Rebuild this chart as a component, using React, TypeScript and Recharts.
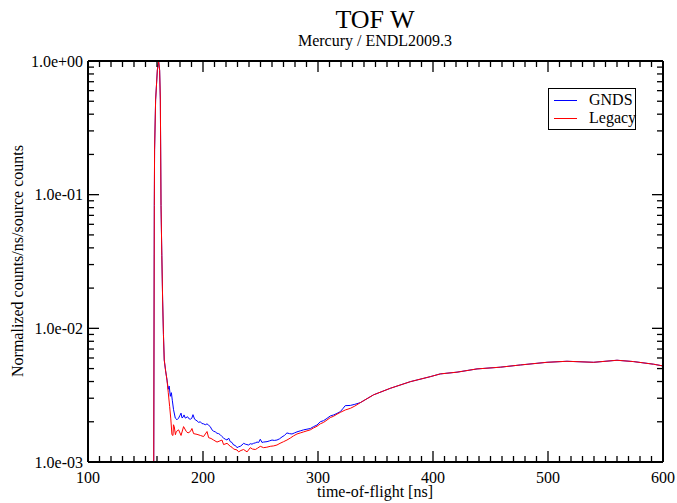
import React from 'react';
import { LineChart, Line, XAxis, YAxis, Legend, Customized } from 'recharts';

// ---- data ----
const peakTof = [157.0, 157.65, 157.9, 158.8, 160.3, 161.4, 162.3, 162.9, 163.2, 163.5, 164.2, 164.9, 165.6, 166.3, 167.5, 168.7];
const peakCounts = [0.0002, 0.083, 0.216, 0.511, 0.857, 1.0, 0.85, 0.511, 0.216, 0.083, 0.035, 0.0163, 0.009, 0.0058, 0.0048, 0.0041];

const gndsTof = [169.8, 170.6, 171.6, 172.5, 173.3, 174.4, 175.9, 177.4, 178.8, 179.8, 180.9, 181.7, 182.6, 183.5, 184.6, 186.6, 188, 189, 190.2, 191.3, 192.7, 194.8, 196.2, 197.7, 199, 200.5, 202, 203.5, 205, 206.3, 207.8, 209.2, 210.7, 212.2, 213.6, 215, 216.5, 217.9, 219.4, 220.9, 222.3, 223.7, 225.2, 226.6, 228.1, 229.6, 231, 232.4, 233.9, 235.3, 236.8, 238.2, 239.7, 241.1, 242.6, 244, 245.5, 247, 248.4, 249.8, 251.3, 252.7, 255.7, 258, 260, 262, 264.3, 266.5, 268.7, 270.8, 273, 275.2, 277.4, 279.5, 281.7, 284.6, 287.5, 290.4, 293.3, 296.2, 299.1, 302, 304.9, 307.8, 310.7, 313.6, 316.5, 319.4, 321.5, 323.7, 328.1, 332];
const gndsCounts = [0.0035, 0.0037, 0.0031, 0.0033, 0.0029, 0.00246, 0.00213, 0.00207, 0.00213, 0.00222, 0.00232, 0.00214, 0.00216, 0.00225, 0.00213, 0.00218, 0.0021, 0.00209, 0.00212, 0.00226, 0.00209, 0.00203, 0.00198, 0.002, 0.00194, 0.00193, 0.0019, 0.00193, 0.00188, 0.00184, 0.00174, 0.0017, 0.00168, 0.00164, 0.00163, 0.0016, 0.00155, 0.00151, 0.00148, 0.00146, 0.00151, 0.00142, 0.0014, 0.00134, 0.00133, 0.00128, 0.0013, 0.00131, 0.00134, 0.00138, 0.00136, 0.00135, 0.00134, 0.00137, 0.00136, 0.00138, 0.00139, 0.00141, 0.0014, 0.00148, 0.0014, 0.00141, 0.00142, 0.00144, 0.00146, 0.00145, 0.00146, 0.00149, 0.00154, 0.00158, 0.00165, 0.00163, 0.00162, 0.00165, 0.00168, 0.00171, 0.00174, 0.00176, 0.00178, 0.00184, 0.00189, 0.002, 0.00204, 0.00212, 0.00221, 0.00225, 0.00231, 0.00238, 0.0025, 0.00264, 0.00265, 0.0027];

const legacyTof = [169.8, 171, 172, 173, 173.9, 174.3, 175, 176, 176.8, 178.8, 180.9, 183.1, 185.5, 187, 189, 190.4, 191.8, 194.8, 197.7, 200.5, 203.5, 204.9, 207, 209.2, 212.2, 214, 216.5, 217.9, 220.9, 223.7, 225.2, 226.6, 229.6, 231, 233, 235.3, 238.3, 241.1, 243, 245.5, 247.5, 249.8, 252.7, 255.5, 258.5, 261.5, 264.3, 267, 270.1, 273, 275.9, 278.8, 281.7, 284.6, 287.5, 290.4, 293.3, 296.2, 299.1, 302, 304.9, 307.8, 310.7, 313.6, 316.5, 319.4, 323.7, 328.1, 332];
const legacyCounts = [0.0033, 0.0026, 0.0021, 0.0016, 0.00158, 0.0019, 0.00184, 0.0016, 0.00169, 0.00174, 0.00158, 0.00184, 0.00169, 0.00165, 0.00169, 0.00178, 0.00163, 0.00161, 0.00158, 0.00155, 0.00169, 0.00152, 0.0015, 0.00146, 0.00141, 0.00143, 0.00146, 0.00135, 0.00138, 0.00131, 0.00129, 0.00125, 0.00123, 0.00119, 0.00122, 0.00124, 0.00119, 0.00128, 0.00125, 0.00124, 0.00127, 0.00131, 0.00128, 0.00129, 0.00131, 0.00132, 0.00134, 0.00138, 0.00142, 0.00146, 0.00151, 0.00157, 0.00162, 0.00165, 0.00168, 0.00171, 0.00174, 0.0018, 0.00185, 0.00193, 0.00198, 0.00206, 0.00215, 0.0022, 0.00228, 0.00235, 0.00245, 0.00252, 0.00262];

const plateauTof = [336.8, 348.3, 362.9, 380.3, 397.7, 406.3, 420.9, 438.3, 458.5, 475.9, 499.1, 516.5, 539.7, 560.0, 574.4, 591.8, 600];
const plateauCounts = [0.00278, 0.00318, 0.00356, 0.00399, 0.00435, 0.00456, 0.0047, 0.00497, 0.00512, 0.00532, 0.00557, 0.00567, 0.00557, 0.00577, 0.00564, 0.00539, 0.00523];

const xMajorTicks = [100, 200, 300, 400, 500, 600];
const yMajorTicks = [0.001, 0.01, 0.1, 1];
const yTickLabels = ['1.0e-03', '1.0e-02', '1.0e-01', '1.0e+00'];
const yMinorFactors = [2, 3, 4, 5, 6, 7, 8, 9];

const seriesNames = ['GNDS', 'Legacy'];
const seriesColors = ['#0000ff', '#ff0000'];

// ---- build tables ----
const toRows = (t: number[], v: number[]) => t.map((x, i) => ({ t: x, v: v[i] }));
const gndsData = [...toRows(peakTof, peakCounts), ...toRows(gndsTof, gndsCounts), ...toRows(plateauTof, plateauCounts)];
const legacyData = [...toRows(peakTof, peakCounts), ...toRows(legacyTof, legacyCounts), ...toRows(plateauTof, plateauCounts)];

const xTicks: number[] = [];
for (let i = 0; i < xMajorTicks.length - 1; i++) {
  for (let k = 0; k < 10; k++) xTicks.push(xMajorTicks[i] + k * 10);
}
xTicks.push(xMajorTicks[xMajorTicks.length - 1]);

const yTicks: number[] = [];
yMajorTicks.forEach((d, i) => {
  yTicks.push(d);
  if (i < yMajorTicks.length - 1) yMinorFactors.forEach((m) => yTicks.push(+(m * d).toPrecision(3)));
});

const FONT = '"Liberation Serif", "DejaVu Serif", serif';

const isMajorY = (v: number) => yMajorTicks.some((m) => Math.abs(m - v) / m < 1e-6);

const XTick = (props: any) => {
  const { x, y, payload, side } = props;
  const v = payload.value as number;
  const major = v % 100 === 0;
  const len = major ? 11 : 6;
  const dir = side === 'top' ? 1 : -1;
  return (
    <g>
      {v > 100 && v < 600 && (
        <line x1={x} x2={x} y1={y} y2={y + dir * len} stroke="#000" strokeWidth={1.3} />
      )}
      {side === 'bottom' && major && (
        <text x={x} y={y + 21} textAnchor="middle" fontFamily={FONT} fontSize={16} fill="#000">
          {v}
        </text>
      )}
    </g>
  );
};

const YTick = (props: any) => {
  const { x, y, payload, side } = props;
  const v = payload.value as number;
  const major = isMajorY(v);
  const len = major ? 11 : 6;
  const dir = side === 'left' ? 1 : -1;
  const idx = yMajorTicks.findIndex((m) => Math.abs(m - v) / m < 1e-6);
  return (
    <g>
      {idx > 0 && idx < yMajorTicks.length - 1 || !major ? (
        <line x1={x} x2={x + dir * len} y1={y} y2={y} stroke="#000" strokeWidth={1.3} />
      ) : null}
      {side === 'left' && major && (
        <text x={x - 5} y={y} dy="0.35em" textAnchor="end" fontFamily={FONT} fontSize={16} fill="#000">
          {yTickLabels[idx]}
        </text>
      )}
    </g>
  );
};

const Titles = () => (
  <g>
    <text x={375} y={28} textAnchor="middle" fontFamily={FONT} fontSize={26} fill="#000">TOF W</text>
    <text x={375} y={46} textAnchor="middle" fontFamily={FONT} fontSize={16} fill="#000">Mercury / ENDL2009.3</text>
    <text x={375} y={497} textAnchor="middle" fontFamily={FONT} fontSize={16} fill="#000">time-of-flight [ns]</text>
    <text x={23} y={261} textAnchor="middle" fontFamily={FONT} fontSize={16} fill="#000" transform="rotate(-90 23 261)">
      Normalized counts/ns/source counts
    </text>
  </g>
);

const LegendBox = () => (
  <div
    style={{
      width: 88,
      height: 42,
      border: '1px solid #000',
      boxSizing: 'border-box',
      background: '#fff',
      position: 'relative',
      fontFamily: FONT,
      fontSize: 16,
      color: '#000',
    }}
  >
    {seriesNames.map((n, i) => (
      <div key={n} style={{ position: 'absolute', left: 0, top: 3 + i * 18, height: 18, width: 86 }}>
        <div style={{ position: 'absolute', left: 5, top: 8, width: 23, height: 0, borderTop: `1px solid ${seriesColors[i]}` }} />
        <span style={{ position: 'absolute', left: 40, top: -1, lineHeight: '18px', whiteSpace: 'nowrap' }}>{n}</span>
      </div>
    ))}
  </div>
);

export default function App() {
  return (
    <div style={{ position: 'absolute', left: 0, top: 0, width: 677, height: 503, background: '#fff' }}>
      <LineChart width={677} height={503} margin={{ top: 60, right: 0, bottom: 0, left: 0 }}>
        <XAxis
          xAxisId={0}
          dataKey="t"
          type="number"
          domain={[100, 600]}
          ticks={xTicks}
          interval={0}
          allowDataOverflow
          height={41}
          tickLine={false}
          tickSize={0}
          tickMargin={0}
          axisLine={{ stroke: '#000', strokeWidth: 2 }}
          tick={(p: any) => <XTick {...p} side="bottom" />}
        />
        <XAxis
          xAxisId="top"
          orientation="top"
          dataKey="t"
          type="number"
          domain={[100, 600]}
          ticks={xTicks}
          interval={0}
          allowDataOverflow
          height={1}
          tickLine={false}
          tickSize={0}
          tickMargin={0}
          axisLine={{ stroke: '#000', strokeWidth: 2 }}
          tick={(p: any) => <XTick {...p} side="top" />}
        />
        <YAxis
          yAxisId={0}
          scale="log"
          type="number"
          domain={[0.001, 1]}
          ticks={yTicks}
          interval={0}
          allowDataOverflow
          width={88}
          tickLine={false}
          tickSize={0}
          tickMargin={0}
          axisLine={{ stroke: '#000', strokeWidth: 2 }}
          tick={(p: any) => <YTick {...p} side="left" />}
        />
        <YAxis
          yAxisId="right"
          orientation="right"
          scale="log"
          type="number"
          domain={[0.001, 1]}
          ticks={yTicks}
          interval={0}
          allowDataOverflow
          width={14}
          tickLine={false}
          tickSize={0}
          tickMargin={0}
          axisLine={{ stroke: '#000', strokeWidth: 2 }}
          tick={(p: any) => <YTick {...p} side="right" />}
        />
        <Line
          data={gndsData}
          dataKey="v"
          name={seriesNames[0]}
          stroke={seriesColors[0]}
          strokeWidth={1}
          dot={false}
          type="linear"
          isAnimationActive={false}
        />
        <Line
          data={legacyData}
          dataKey="v"
          name={seriesNames[1]}
          stroke={seriesColors[1]}
          strokeWidth={1}
          dot={false}
          type="linear"
          isAnimationActive={false}
        />
        <Legend
          layout="vertical"
          align="center"
          verticalAlign="middle"
          content={() => <LegendBox />}
          wrapperStyle={{ position: 'absolute', left: 548, top: 88, width: 88, height: 42 }}
        />
        <Customized component={Titles} />
      </LineChart>
    </div>
  );
}
